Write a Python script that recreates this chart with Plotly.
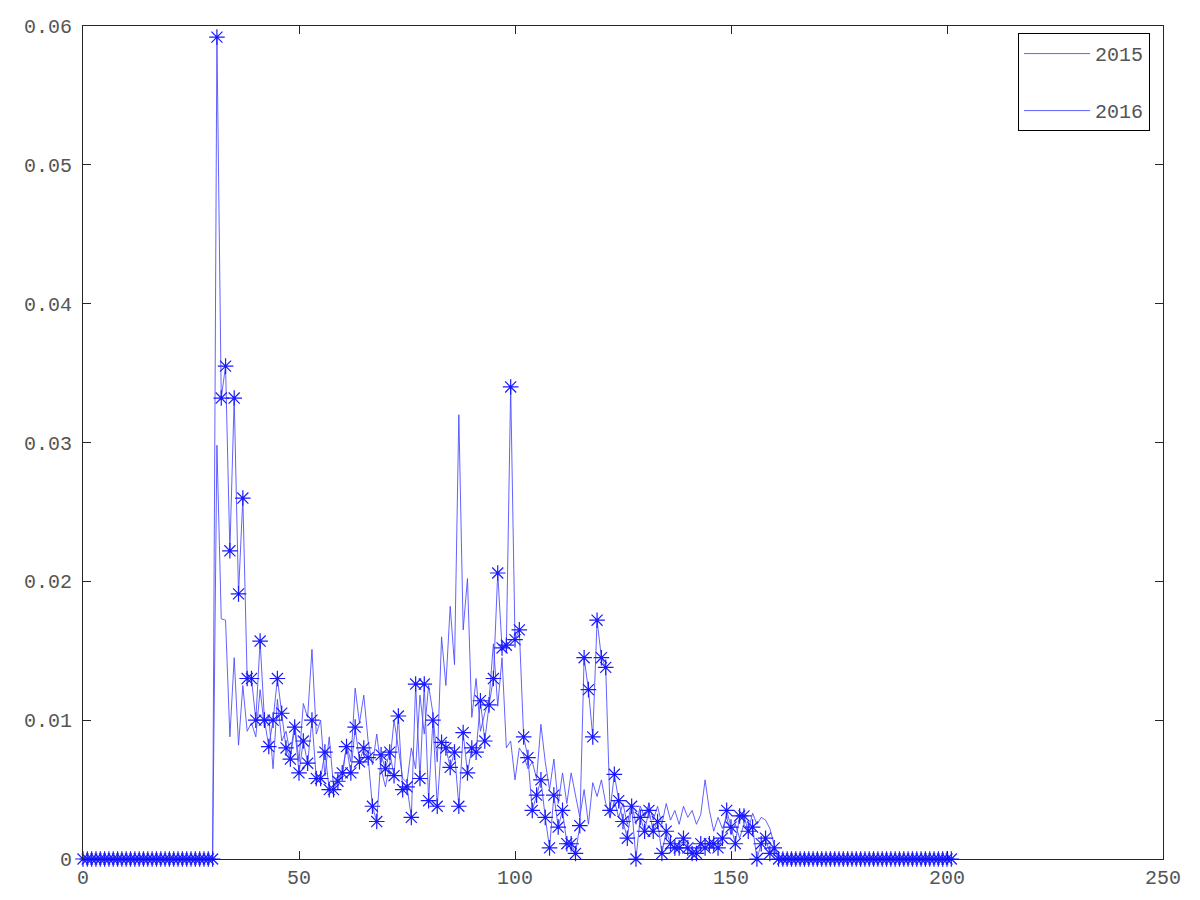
import plotly.graph_objects as go

x_vals = list(range(0, 202))

# 2015 series (line only), index 31..160, rest zero
y2015_head = [
    0.0298, 0.0173, 0.0172, 0.0088, 0.0145, 0.0082, 0.0125, 0.0092, 0.0098, 0.0088,  # 31-40
    0.0122, 0.0095, 0.0103, 0.0065, 0.0115, 0.0085, 0.0092, 0.0075, 0.0098, 0.0070,  # 41-50
    0.0112, 0.0102, 0.0151, 0.0090, 0.0100, 0.0060, 0.0088, 0.0052, 0.0060, 0.0058,  # 51-60
    0.0083, 0.0070, 0.0123, 0.0098, 0.0118, 0.0085, 0.0068, 0.0090, 0.0065, 0.0052,  # 61-70
    0.0068, 0.0100, 0.0080, 0.0058, 0.0055, 0.0080, 0.0065, 0.0118, 0.0090, 0.0125,  # 71-80
    0.0105, 0.0070, 0.0160, 0.0125, 0.0182, 0.0140, 0.0320, 0.0165, 0.0202, 0.0102,  # 81-90
    0.0130, 0.0092, 0.0105, 0.0115, 0.0155, 0.0110, 0.0145, 0.0080, 0.0085, 0.0057,  # 91-100
    0.0080, 0.0075, 0.0065, 0.0070, 0.0058, 0.0097, 0.0070, 0.0050, 0.0072, 0.0040,  # 101-110
    0.0062, 0.0040, 0.0062, 0.0045, 0.0030, 0.0050, 0.0025, 0.0055, 0.0045, 0.0057,  # 111-120
    0.0040, 0.0030, 0.0042, 0.0030, 0.0040, 0.0025, 0.0040, 0.0025, 0.0038, 0.0030,  # 121-130
    0.0040, 0.0028, 0.0038, 0.0025, 0.0040, 0.0028, 0.0035, 0.0025, 0.0038, 0.0030,  # 131-140
    0.0035, 0.0025, 0.0032, 0.0057, 0.0035, 0.0020, 0.0030, 0.0022, 0.0030, 0.0018,  # 141-150
    0.0025, 0.0015, 0.0025, 0.0020, 0.0033, 0.0025, 0.0030, 0.0028, 0.0022, 0.0010,  # 151-160
]
y2015 = [0.0] * 31 + y2015_head + [0.0] * (202 - 31 - len(y2015_head))

# 2016 series (line with asterisk markers), index 31..160, rest zero
y2016_head = [
    0.0592, 0.0332, 0.0355, 0.0222, 0.0332, 0.0191, 0.0260, 0.0130, 0.0130, 0.0100,  # 31-40
    0.0157, 0.0100, 0.0081, 0.0100, 0.0130, 0.0105, 0.0080, 0.0072, 0.0095, 0.0062,  # 41-50
    0.0085, 0.0069, 0.0100, 0.0058, 0.0058, 0.0077, 0.0050, 0.0050, 0.0056, 0.0062,  # 51-60
    0.0081, 0.0062, 0.0095, 0.0070, 0.0080, 0.0073, 0.0038, 0.0027, 0.0075, 0.0065,  # 61-70
    0.0077, 0.0060, 0.0103, 0.0050, 0.0052, 0.0030, 0.0126, 0.0058, 0.0126, 0.0042,  # 71-80
    0.0100, 0.0038, 0.0084, 0.0080, 0.0066, 0.0077, 0.0038, 0.0091, 0.0062, 0.0080,  # 81-90
    0.0077, 0.0114, 0.0085, 0.0111, 0.0130, 0.0206, 0.0152, 0.0154, 0.0340, 0.0158,  # 91-100
    0.0165, 0.0088, 0.0073, 0.0035, 0.0046, 0.0057, 0.0030, 0.0008, 0.0046, 0.0023,  # 101-110
    0.0035, 0.0011, 0.0011, 0.0004, 0.0024, 0.0145, 0.0122, 0.0088, 0.0172, 0.0145,  # 111-120
    0.0138, 0.0035, 0.0061, 0.0042, 0.0027, 0.0015, 0.0038, 0.0000, 0.0030, 0.0020,  # 121-130
    0.0035, 0.0020, 0.0027, 0.0004, 0.0020, 0.0011, 0.0008, 0.0008, 0.0015, 0.0008,  # 131-140
    0.0004, 0.0004, 0.0011, 0.0008, 0.0011, 0.0011, 0.0008, 0.0015, 0.0035, 0.0023,  # 141-150
    0.0011, 0.0031, 0.0031, 0.0020, 0.0023, 0.0000, 0.0011, 0.0015, 0.0004, 0.0008,  # 151-160
]
y2016 = [0.0] * 31 + y2016_head + [0.0] * (202 - 31 - len(y2016_head))

x_ticks = [0, 50, 100, 150, 200, 250]
y_ticks = [0, 0.01, 0.02, 0.03, 0.04, 0.05, 0.06]
y_tick_text = ["0", "0.01", "0.02", "0.03", "0.04", "0.05", "0.06"]

line_color = "rgba(70,70,255,0.85)"
mark_color = "#1a1aff"
font_family = "Liberation Mono, DejaVu Sans Mono, monospace"
text_color = "#555555"

fig = go.Figure()
fig.add_trace(go.Scatter(
    x=x_vals, y=y2015, mode="lines", name="2015",
    line=dict(color=line_color, width=1), legendgroup="a",
))
fig.add_trace(go.Scatter(
    x=x_vals, y=y2016, mode="lines", name="2016",
    line=dict(color=line_color, width=1), legendgroup="b",
))
fig.add_trace(go.Scatter(
    x=x_vals, y=y2016, mode="markers", name="2016 points", showlegend=False,
    marker=dict(symbol="asterisk-open", size=13, color=mark_color,
                line=dict(color=mark_color, width=1.2)),
    cliponaxis=False,
))

axis_common = dict(
    showgrid=False, zeroline=False, showline=True, linecolor="#262626", linewidth=1,
    mirror="ticks", ticks="inside", ticklen=8, tickcolor="#262626", tickwidth=1,
    tickfont=dict(family=font_family, size=20, color=text_color),
    automargin=False,
)
fig.update_xaxes(range=[0, 250], tickvals=x_ticks, ticktext=[str(v) for v in x_ticks], **axis_common)
fig.update_yaxes(range=[0, 0.06], tickvals=y_ticks, ticktext=y_tick_text, ticklabelstandoff=6, **axis_common)

fig.update_layout(
    width=1200, height=900,
    margin=dict(l=75, r=45, t=18, b=49),
    plot_bgcolor="white", paper_bgcolor="white",
    showlegend=True,
    legend=dict(
        x=0.988, y=0.9915, xanchor="right", yanchor="top",
        bgcolor="white", bordercolor="black", borderwidth=1,
        font=dict(family=font_family, size=20, color=text_color),
        tracegroupgap=28, traceorder="grouped",
        itemwidth=66,
    ),
)

fig.write_html("out.html")
